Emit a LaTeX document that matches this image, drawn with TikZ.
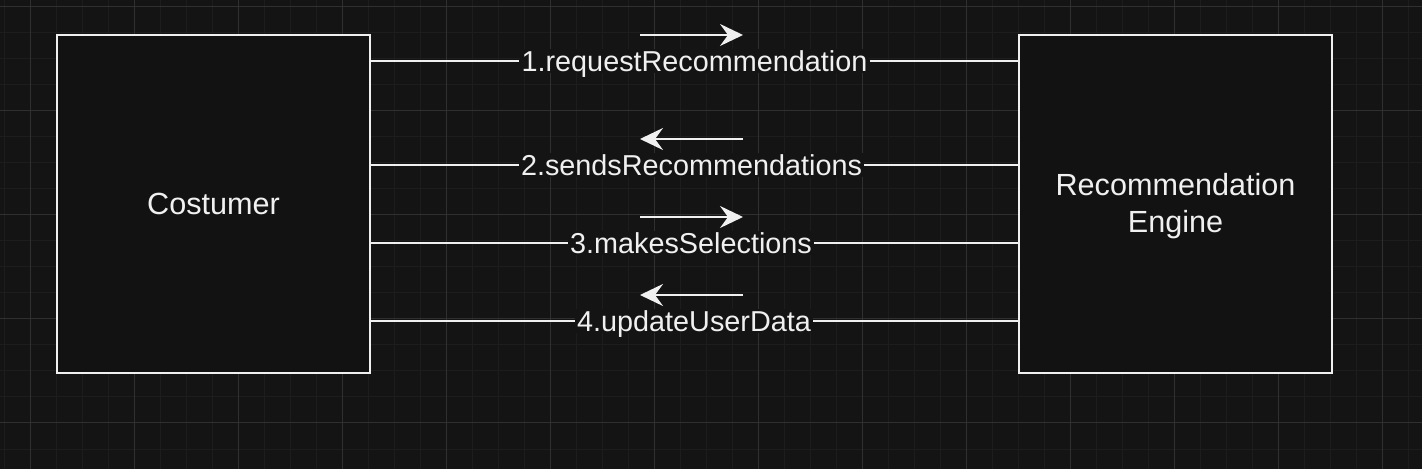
\documentclass[tikz,border=0pt]{standalone}
\usepackage{fontspec}
\setmainfont{Liberation Sans}
\usetikzlibrary{positioning, arrows.meta}
\definecolor{bgdark}{HTML}{141414}
\definecolor{boxfill}{HTML}{121212}
\definecolor{gridminor}{HTML}{1D1D1D}
\definecolor{gridmajor}{HTML}{303030}
\definecolor{ink}{HTML}{F0F0F0}

\begin{document}
\begin{tikzpicture}[x=0.5pt,y=-0.5pt]
            \tikzset{box/.style={draw=ink,fill=boxfill,line width=1pt,minimum width=156.5pt,minimum height=169pt,inner sep=0pt,align=center,text=ink,font=\fontsize{15.3}{18.7}\selectfont}}
            \tikzset{msg/.style={fill=bgdark,text=ink,inner sep=1pt,text height=10.3pt,text depth=0pt,font=\fontsize{14.4}{17}\selectfont}}
            \tikzset{link/.style={draw=ink,line width=1pt}}
            \tikzset{flow/.style={draw=ink,line width=1pt,-{Stealth[length=11.5pt,width=11pt,inset=4pt]}}}

            % background and grid
            \fill[bgdark] (0,0) rectangle (1422,469);
            \useasboundingbox (0,0) rectangle (1422,469);
            \foreach \x in {4,30,...,1422} \draw[gridminor,line width=0.5pt] (\x,0) -- (\x,469);
            \foreach \y in {7,33,...,469} \draw[gridminor,line width=0.5pt] (0,\y) -- (1422,\y);
            \foreach \x in {30,134,...,1422} \draw[gridmajor,line width=0.5pt] (\x,0) -- (\x,469);
            \foreach \y in {7,111,...,469} \draw[gridmajor,line width=0.5pt] (0,\y) -- (1422,\y);

            \node[box] (cost) at (213.5,204) {Costumer};
            \node[box] (eng) at (1175.5,204) {};
            \node[align=center,text=ink,inner sep=0pt,font=\fontsize{15.3}{18.7}\selectfont] (engtxt) at (1175.5,206) {Recommendation\\Engine};

            \node[msg] (m1) at (694.5,61) {1.requestRecommendation};
            \node[msg] (m2) at (691.5,165) {2.sendsRecommendations};
            \node[msg] (m3) at (691,243) {3.makesSelections};
            \node[msg] (m4) at (694,321) {4.updateUserData};

            \draw[link] (cost.east |- m1) -- (m1);
            \draw[link] (m1) -- (eng.west |- m1);
            \draw[link] (cost.east |- m2) -- (m2);
            \draw[link] (m2) -- (eng.west |- m2);
            \draw[link] (cost.east |- m3) -- (m3);
            \draw[link] (m3) -- (eng.west |- m3);
            \draw[link] (cost.east |- m4) -- (m4);
            \draw[link] (m4) -- (eng.west |- m4);

            % direction arrows
            \coordinate (a1l) at (640,35);
            \coordinate (a1r) at (743,35);
            \coordinate (a2l) at (640,139);
            \coordinate (a2r) at (743,139);
            \coordinate (a3l) at (640,217);
            \coordinate (a3r) at (743,217);
            \coordinate (a4l) at (640,295);
            \coordinate (a4r) at (743,295);

            \draw[flow] (a1l) -- (a1r);
            \draw[flow] (a2r) -- (a2l);
            \draw[flow] (a3l) -- (a3r);
            \draw[flow] (a4r) -- (a4l);

\end{tikzpicture}
\end{document}
